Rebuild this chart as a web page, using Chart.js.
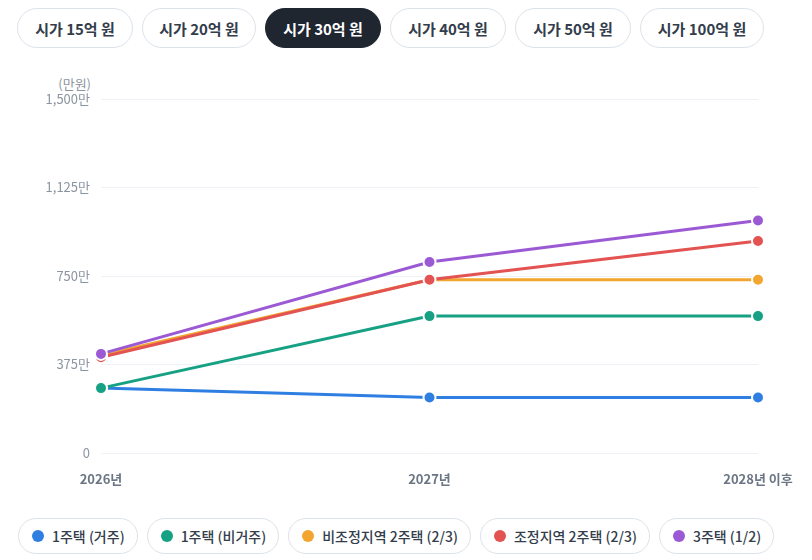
<!DOCTYPE html>
<html>
<head>
<meta charset="utf-8">
<script src="https://cdn.jsdelivr.net/npm/chart.js@4"></script>
<style>
  body { margin: 0; width: 812px; height: 560px; background: #fff; font-family: "Noto Sans CJK KR", "Noto Sans", sans-serif; position: relative; overflow: hidden; }
  .tabs { position: absolute; left: 17px; top: 8px; display: flex; gap: 9px; }
  .tab { height: 38px; border: 1px solid #dde3ea; border-radius: 20px; display: flex; align-items: center; justify-content: center; font-size: 15px; font-weight: 700; color: #333d4b; box-sizing: content-box; }
  .tab.on { background: #1f2630; border-color: #1f2630; color: #fff; }
  .unit { position: absolute; left: 0; width: 91px; text-align: right; top: 74px; font-size: 13px; color: #8b95a1; }
  .wrap { position: absolute; left: 0; top: 60px; width: 812px; height: 440px; }
  .legend { position: absolute; left: 18px; top: 518px; display: flex; gap: 9px; }
  .item { height: 34px; border: 1px solid #dde3ea; border-radius: 18px; display: flex; align-items: center; padding: 0 12px 0 13px; font-size: 14px; font-weight: 500; color: #333d4b; }
  .dot { width: 12px; height: 12px; border-radius: 50%; margin-right: 8px; }
</style>
</head>
<body>
<div class="tabs" id="tabs"></div>
<div class="unit">(만원)</div>
<div class="wrap"><canvas id="myChart"></canvas></div>
<div class="legend" id="legend"></div>
<script>
var tabLabels = ["시가 15억 원", "시가 20억 원", "시가 30억 원", "시가 40억 원", "시가 50억 원", "시가 100억 원"];
var years = ["2026년", "2027년", "2028년 이후"];
var yTicks = [0, 375, 750, 1125, 1500];

var seriesNames = ["1주택 (거주)", "1주택 (비거주)", "비조정지역 2주택 (2/3)", "조정지역 2주택 (2/3)", "3주택 (1/2)"];
var ownerResident = [275, 235, 235];
var ownerNonResident = [275, 580, 580];
var twoHomesOther = [414, 734, 734];
var twoHomesAdjusted = [406, 734, 898];
var threeHomes = [420, 809, 985];
var colors = ["#2f7fe3", "#17a184", "#f2a630", "#e25352", "#9b5ad4"];

var tabWidths = [116, 114, 116, 116, 116, 124];
var tabs = document.getElementById("tabs");
tabLabels.forEach(function (t, i) {
    var d = document.createElement("div");
    d.className = "tab" + (i === 2 ? " on" : "");
    d.style.width = (tabWidths[i] - 2) + "px";
    d.textContent = t;
    tabs.appendChild(d);
});

var values = [ownerResident, ownerNonResident, twoHomesOther, twoHomesAdjusted, threeHomes];
var datasets = values.map(function (v, i) {
    return {
        label: seriesNames[i],
        data: v,
        borderColor: colors[i],
        backgroundColor: colors[i],
        borderWidth: 3,
        pointRadius: 6,
        pointHoverRadius: 6,
        pointBorderColor: "#fff",
        pointBorderWidth: 2,
        pointBackgroundColor: colors[i],
        tension: 0,
        order: 5 - i
    };
});

var legend = document.getElementById("legend");
seriesNames.forEach(function (n, i) {
    var d = document.createElement("div");
    d.className = "item";
    d.innerHTML = '<span class="dot" style="background:' + colors[i] + '"></span>' + n;
    legend.appendChild(d);
});

var ctx = document.getElementById("myChart");
var myChart = new Chart(ctx, {
    type: 'line',
    data: {
        labels: years,
        datasets: datasets
    },
    options: {
        responsive: true,
        maintainAspectRatio: false,
        animation: false,
        layout: { padding: { top: 39, right: 54, left: 0, bottom: 0 } },
        plugins: {
            legend: { display: false },
            tooltip: { enabled: false }
        },
        scales: {
            x: {
                offset: false,
                grid: { display: false, drawTicks: false },
                border: { display: false },
                ticks: {
                    padding: 18,
                    maxRotation: 0,
                    color: "#6b7684",
                    font: { family: "Noto Sans CJK KR", size: 13, weight: "bold" }
                },
                afterFit: function (scale) { scale.height = 47; }
            },
            y: {
                min: 0,
                max: 1500,
                afterBuildTicks: function (scale) {
                    scale.ticks = yTicks.map(function (v) { return { value: v }; });
                },
                grid: { color: "#eef1f5", lineWidth: 1, drawTicks: false },
                border: { display: false },
                ticks: {
                    padding: 11,
                    color: "#8b95a1",
                    font: { family: "Noto Sans CJK KR", size: 13 },
                    callback: function (v) { return v === 0 ? "0" : v.toLocaleString("en-US") + "만"; }
                },
                afterFit: function (scale) { scale.width = 101; }
            }
        }
    }
});
</script>
</body>
</html>
